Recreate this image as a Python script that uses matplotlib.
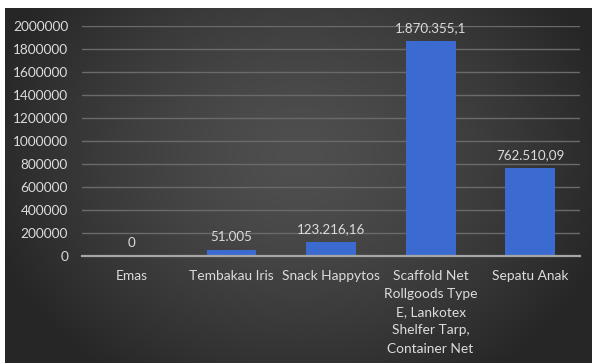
import numpy as np
import matplotlib
matplotlib.use("Agg")
import matplotlib.pyplot as plt
from matplotlib.ticker import FixedLocator

categories = ["Emas", "Tembakau Iris", "Snack Happytos",
              "Scaffold Net\nRollgoods Type\nE, Lankotex\nShelfer Tarp,\nContainer Net",
              "Sepatu Anak"]
values = [0, 51005, 123216.16, 1870355.1, 762510.09]
value_labels = ["0", "51.005", "123.216,16", "1.870.355,1", "762.510,09"]
y_ticks = [0, 200000, 400000, 600000, 800000, 1000000,
           1200000, 1400000, 1600000, 1800000, 2000000]

W, H = 592, 363
plt.rcParams["font.family"] = ["Lato", "DejaVu Sans"]
fig = plt.figure(figsize=(W / 100, H / 100), dpi=100, facecolor="white")

# dark panel with a soft radial glow
bg = fig.add_axes([5 / W, 0, (W - 5) / W, (H - 8) / H])
ny, nx = 200, 330
yy, xx = np.mgrid[0:ny, 0:nx]
r = np.sqrt(((xx - nx * 0.5) / (nx * 0.55)) ** 2 + ((yy - ny * 0.42) / (ny * 0.75)) ** 2)
r = np.clip(r, 0, 1)
shade = 0.31 - 0.16 * r ** 1.4
img = np.dstack([shade, shade, shade])
bg.imshow(img, aspect="auto", extent=[0, 1, 0, 1], interpolation="bicubic")
bg.set_axis_off()

ax = fig.add_axes([82 / W, 107 / H, (580 - 82) / W, (256 - 25.7) / H])
ax.patch.set_alpha(0)
x = np.arange(len(categories))
ax.bar(x, values, width=0.5, color="#3b6bd0", zorder=3)
ax.set_xlim(-0.5, len(categories) - 0.5)
ax.set_ylim(0, 2000000)
ax.yaxis.set_major_locator(FixedLocator(y_ticks))
ax.set_yticklabels([str(t) for t in y_ticks])
ax.grid(axis="y", color="#6a6a6a", linewidth=1.0, zorder=0)
ax.axhline(0, color="#a6a6a6", linewidth=1.6, zorder=4, clip_on=False)
for s in ax.spines.values():
    s.set_visible(False)
ax.tick_params(axis="both", length=0, colors="#dcdcdc")
ax.tick_params(axis="y", pad=10, labelsize=9.8)
ax.set_xticks(x)
ax.set_xticklabels(categories, linespacing=1.62, va="top")
ax.tick_params(axis="x", pad=10, labelsize=9.9)

for xi, v, lab in zip(x, values, value_labels):
    ax.annotate(lab, (xi, v), xytext=(0, 5), textcoords="offset points",
                ha="center", va="bottom", color="#dcdcdc", fontsize=9.6)

fig.savefig("out.png", dpi=100, facecolor="white")
